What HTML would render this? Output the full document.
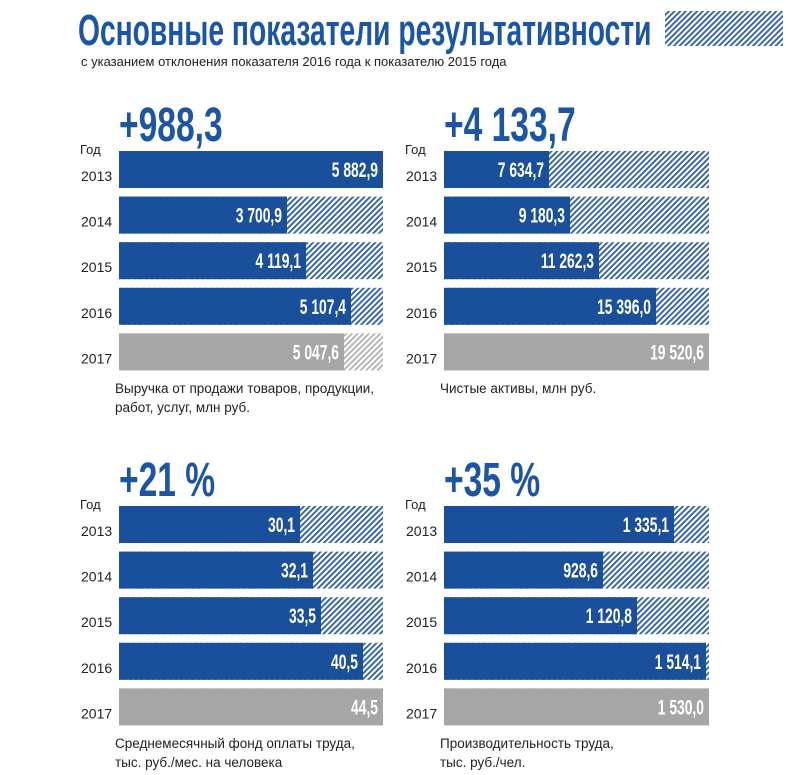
<!DOCTYPE html>
<html><head><meta charset="utf-8"><style>
body{margin:0;background:#fff;}
svg{display:block}
.t{font-family:"Liberation Sans",sans-serif;}
</style></head><body>
<svg width="790" height="775" xmlns="http://www.w3.org/2000/svg" class="t">
<defs>
<pattern id="h" width="4" height="4" patternUnits="userSpaceOnUse" patternTransform="rotate(45)">
<rect width="4" height="4" fill="#fff"/><rect width="1.8" height="4" fill="#2a5da3"/></pattern>
<pattern id="g" width="4" height="4" patternUnits="userSpaceOnUse" patternTransform="rotate(45)">
<rect width="4" height="4" fill="#fff"/><rect width="1.6" height="4" fill="#aaa"/></pattern>
</defs>
<text x="78" y="45" font-size="44" font-weight="bold" fill="#1b55a3" transform="translate(78 0) scale(0.62 1) translate(-78 0)" textLength="925" lengthAdjust="spacingAndGlyphs">Основные показатели результативности</text>
<rect x="665" y="11" width="118" height="35" fill="url(#h)"/>
<text x="81" y="66" font-size="13" fill="#222">с указанием отклонения показателя 2016 года к показателю 2015 года</text>

<g id="panels"></g>
</svg>
<script>
const P=[
 {x:119,y:151,w:264,big:"+988,3",v:[["5 882,9",264],["3 700,9",168],["4 119,1",187],["5 107,4",232],["5 047,6",225]],cap:["Выручка от продажи товаров, продукции,","работ, услуг, млн руб."]},
 {x:444,y:151,w:265,big:"+4 133,7",v:[["7 634,7",105],["9 180,3",126],["11 262,3",155],["15 396,0",212],["19 520,6",265]],cap:["Чистые активы, млн руб."]},
 {x:119,y:506,w:264,big:"+21 %",v:[["30,1",181],["32,1",194],["33,5",202],["40,5",244],["44,5",264]],cap:["Среднемесячный фонд оплаты труда,","тыс. руб./мес. на человека"]},
 {x:444,y:506,w:265,big:"+35 %",v:[["1 335,1",230],["928,6",159],["1 120,8",193],["1 514,1",262],["1 530,0",265]],cap:["Производительность труда,","тыс. руб./чел."]}
];
const yrs=["2013","2014","2015","2016","2017"];
let s="";
for(const p of P){
 s+=`<text x="${p.x}" y="${p.y-10}" font-size="48" font-weight="bold" fill="#1b55a3" transform="translate(${p.x} 0) scale(0.7 1) translate(${-p.x} 0)">${p.big}</text>`;
 s+=`<text x="${p.x-39}" y="${p.y+3}" font-size="13" fill="#222">Год</text>`;
 p.v.forEach((v,i)=>{
  const y=p.y+i*45.6, last=i==4;
  s+=`<rect x="${p.x}" y="${y}" width="${p.w}" height="37" fill="url(#${last?'g':'h'})"/>`;
  s+=`<rect x="${p.x}" y="${y}" width="${v[1]}" height="37" fill="${last?'#a6a6a6':'#1a4f9b'}"/>`;
  const tx=p.x+v[1]-5;
  s+=`<text x="${tx}" y="${y+26}" font-size="21" font-weight="bold" fill="#fff" text-anchor="end" transform="translate(${tx} 0) scale(0.66 1) translate(${-tx} 0)">${v[0]}</text>`;
  s+=`<text x="${p.x-38}" y="${y+30}" font-size="14" fill="#222">${yrs[i]}</text>`;
 });
 p.cap.forEach((c,j)=>{s+=`<text x="${p.x-4}" y="${p.y+242+j*19}" font-size="13.5" fill="#222">${c}</text>`;});
}
document.getElementById("panels").innerHTML=s;
</script>
</body></html>
